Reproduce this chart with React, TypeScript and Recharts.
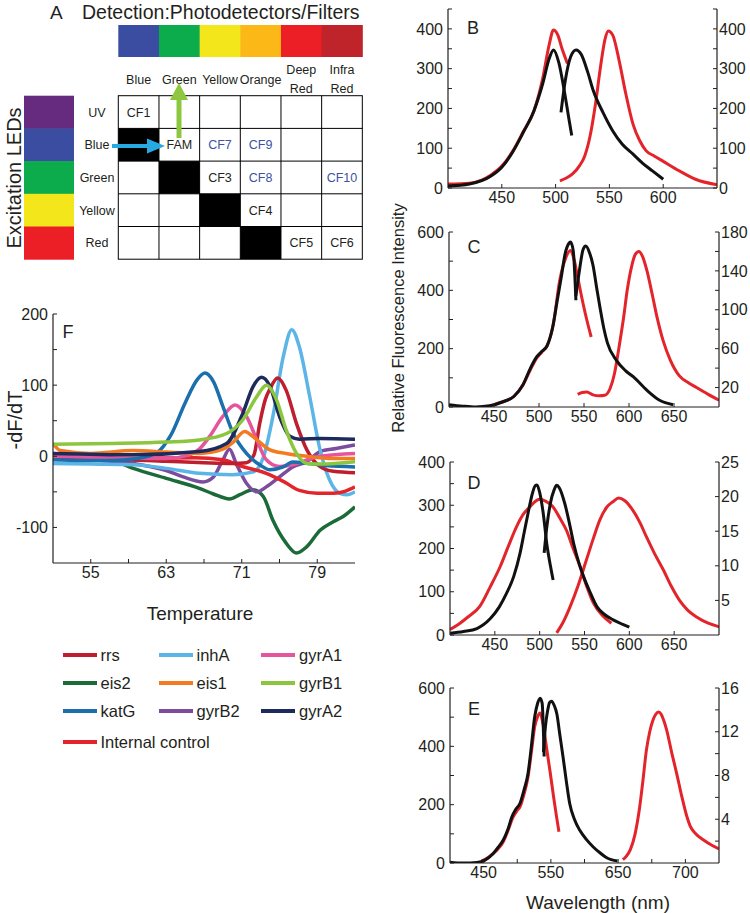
import React from 'react';
import { LineChart, Line, XAxis, YAxis } from 'recharts';

type Pt = [number, number];

// ---- Panel A (detector / LED matrix) ----
const detectNames = ['Blue', 'Green', 'Yellow', 'Orange', 'Deep Red', 'Infra Red'];
const detectColors = ['#3a4da0', '#0cab4b', '#f3e61b', '#fbb817', '#ec1f26', '#bf242b'];
const ledNames = ['UV', 'Blue', 'Green', 'Yellow', 'Red'];
const ledColors = ['#662a7e', '#3a4da0', '#0cab4b', '#f3e61b', '#ec1f26'];
const cellLabels = [
  ['CF1', '', '', '', '', ''],
  ['', 'FAM', 'CF7', 'CF9', '', ''],
  ['', '', 'CF3', 'CF8', '', 'CF10'],
  ['', '', '', 'CF4', '', ''],
  ['', '', '', '', 'CF5', 'CF6'],
];
const blueLabels = ['CF7', 'CF8', 'CF9', 'CF10'];
const blackCells: Pt[] = [[1, 0], [2, 1], [3, 2], [4, 3]];

// ---- Panel B ----
const bExBlack: Pt[] = [[400, 5], [420, 10], [440, 30], [450, 52], [460, 90], [470, 140], [480, 195], [488, 262], [494, 325], [498, 347], [503, 315], [508, 245], [512, 180], [515, 132]];
const bExRed: Pt[] = [[400, 10], [420, 12], [440, 33], [450, 55], [460, 92], [470, 142], [480, 195], [488, 275], [494, 360], [498, 397], [502, 385], [506, 350], [511, 313]];
const bEmBlack: Pt[] = [[505, 190], [509, 270], [514, 330], [519, 347], [524, 335], [530, 290], [535, 245], [544, 190], [553, 144], [562, 110], [572, 85], [581, 62], [590, 43], [600, 22]];
const bEmRed: Pt[] = [[504, 18], [510, 25], [516, 36], [522, 55], [527, 80], [532, 130], [537, 210], [542, 310], [546, 375], [549, 395], [553, 385], [559, 321], [565, 240], [572, 160], [578, 120], [584, 94], [592, 80], [600, 67], [615, 43], [630, 22], [650, 8]];

// ---- Panel C ----
const cExBlack: Pt[] = [[400, 8], [415, 3], [430, 0], [445, 4], [460, 18], [472, 36], [482, 75], [490, 130], [497, 170], [503, 190], [509, 210], [515, 270], [520, 360], [525, 450], [529, 525], [533, 560], [535, 566], [538, 537], [541, 366]];
const cEmBlack: Pt[] = [[541, 380], [545, 470], [549, 540], [552, 552], [556, 530], [560, 486], [564, 410], [568, 337], [572, 270], [576, 220], [586, 160], [596, 125], [605, 103], [620, 57], [634, 23], [649, 8]];
const cExRed: Pt[] = [[451, 10], [460, 18], [472, 36], [482, 75], [490, 125], [497, 166], [503, 188], [509, 210], [516, 286], [523, 434], [529, 505], [535, 537], [539, 505], [543, 445], [549, 354], [553, 300], [558, 240]];
const cEmRed: Pt[] = [[543, 13], [548, 15], [553, 15.5], [560, 12.5], [567, 11.5], [573, 12], [579, 19], [584, 35], [589, 62], [594, 92], [598, 120], [603, 145], [607, 157], [611, 160], [615, 155], [620, 140], [626, 115], [631, 93], [638, 68], [646, 48], [656, 32], [666, 25], [675, 20], [688, 13], [700, 7]];

// ---- Panel D ----
const dExBlack: Pt[] = [[400, 4], [415, 8], [430, 15], [445, 38], [455, 65], [463, 96], [471, 135], [478, 188], [483, 240], [487, 281], [491, 320], [495, 345], [497, 347], [500, 330], [504, 281], [508, 210], [512, 160], [515, 127]];
const dEmBlack: Pt[] = [[505, 190], [508, 250], [512, 305], [516, 335], [519, 346], [522, 340], [528, 304], [533, 260], [538, 211], [544, 165], [549, 135], [556, 100], [564, 65], [572, 48], [582, 35], [592, 25], [600, 18]];
const dExRed: Pt[] = [[400, 0.8], [410, 1.6], [420, 2.6], [433, 4.1], [445, 7], [456, 9.9], [465, 12.8], [474, 15.6], [482, 17.5], [489, 18.5], [495, 19.3], [500, 19.6], [507, 19.3], [515, 18.5], [522, 17], [530, 15.1], [537, 12.6], [545, 9.9], [552, 7.2], [560, 4.6], [570, 2.8], [580, 1.7]];
const dEmRed: Pt[] = [[519, 0.3], [526, 1.8], [534, 4.1], [543, 7.2], [552, 10.8], [560, 14], [567, 16.6], [575, 18.5], [582, 19.3], [588, 19.8], [595, 19.4], [604, 18], [612, 16.2], [619, 14.2], [628, 11.8], [638, 9.4], [647, 7], [656, 5], [665, 3.6], [675, 2.6], [688, 1.7], [700, 1.2]];

// ---- Panel E ----
const eExBlack: Pt[] = [[400, 3], [420, 0], [440, 2], [452, 10], [464, 32], [472, 55], [479, 78], [486, 115], [492, 158], [498, 185], [504, 204], [510, 250], [516, 307], [521, 400], [526, 502], [530, 545], [534, 565], [537, 548], [540, 365]];
const eEmBlack: Pt[] = [[539, 380], [542, 470], [545, 520], [548, 550], [551, 555], [555, 540], [559, 510], [563, 445], [568, 365], [573, 280], [578, 204], [585, 150], [593, 112], [603, 80], [613, 55], [623, 35], [633, 18], [649, 7]];
const eExRed: Pt[] = [[447, 7], [456, 18], [464, 32], [472, 50], [479, 72], [486, 110], [494, 158], [500, 180], [504, 192], [510, 235], [516, 295], [521, 380], [526, 468], [530, 500], [534, 514], [538, 480], [544, 388], [549, 310], [554, 227], [558, 165], [562, 107]];
const eEmRed: Pt[] = [[657, 0.3], [662, 0.6], [668, 1.2], [675, 2.6], [682, 5.1], [687, 7.6], [692, 10.3], [697, 12], [702, 13.1], [706, 13.6], [710, 13.8], [714, 13.6], [718, 13], [722, 12.2], [730, 10], [737, 8.2], [745, 6], [752, 4.3], [757, 3.4], [765, 2.7], [777, 2.1], [790, 1.6], [800, 1.3]];

// ---- Panel F (melt curves) ----
const fRrs: Pt[] = [[51, -3], [57, -4], [63, -7], [67, -9], [70, -10], [71.5, -9], [72.3, 2], [72.9, 46], [73.5, 80], [74, 95], [74.8, 110], [75.7, 93], [76.8, 46], [77.9, 9], [79.3, -14.5], [80.7, -21], [83, -23]];
const fEis2: Pt[] = [[51, -2], [54, -3], [57, -5], [59.5, -17], [63, -31], [66.5, -45], [68, -53], [69.7, -60], [70.8, -54], [72.2, -47], [73.3, -57], [74.3, -90], [75.7, -122], [76.8, -136], [77.9, -127], [79.3, -104], [80.7, -92], [81.7, -85], [83, -71]];
const fKatG: Pt[] = [[51, -5], [54, -6], [57, -6], [60, -3], [62, 5], [63.5, 30], [65, 75], [66.3, 108], [67.1, 117], [68, 105], [69, 70], [70.1, 32], [71.5, 4], [72.9, -12], [74, -19], [75.4, -15], [76.4, -8], [78, -10], [80, -13], [83, -15]];
const fInhA: Pt[] = [[51, -10], [55, -11], [59.5, -12], [63, -17], [66.5, -24], [70, -26], [72.2, -22], [73.3, -1], [74.3, 56], [75.4, 140], [76.3, 178], [77.1, 154], [78.2, 84], [79.3, 9], [80.3, -33], [81.4, -52], [82.2, -54], [83, -50]];
const fEis1: Pt[] = [[51, 18], [51.8, 8], [55, 4], [59.5, 8], [63, 6], [66.5, 4], [69, 10], [70.1, 20], [71.3, 35], [72.6, 23], [74, 9], [75.7, 4], [77.9, 0], [80.7, -3], [83, -3]];
const fGyrB2: Pt[] = [[51, -3], [55, -5], [59.5, -10], [63, -20], [64.8, -29], [66.9, -36], [68, -29], [69, -5], [69.7, 10], [70.4, -10], [71.5, -38], [72.6, -50], [73.6, -43], [75, -29], [76.4, -15], [77.9, -7.5], [79.3, 6.6], [81, 11], [83, 16]];
const fGyrA1: Pt[] = [[51, 0], [57, -2], [63, -3], [65.5, 2], [66.5, 10], [67.6, 28], [69, 56], [70.3, 72], [71.5, 56], [72.6, 23], [73.6, -5], [75, -14.5], [76.4, -12], [77.9, -5], [79.3, 0], [83, 4]];
const fGyrB1: Pt[] = [[51, 17], [57, 18], [63, 20], [66.5, 23], [69.4, 32], [71.1, 51], [72.6, 84], [73.6, 100], [74.7, 79], [75.7, 37], [76.8, 4], [77.9, -10], [79.3, -11], [83, -7.5]];
const fGyrA2: Pt[] = [[51, 4], [59.5, 2], [66.5, 6.6], [69.4, 18], [71.1, 60], [72.2, 98], [73.1, 111], [74, 98], [75, 56], [76.1, 28], [77.1, 24], [79.3, 25], [83, 24]];
const fControl: Pt[] = [[51, -4], [60, -3], [66, -2], [69, -5], [71, -14], [73.6, -24], [75.5, -36], [77.1, -48], [79, -52], [80.7, -52], [82, -49], [83, -43]];

const fNames = ['rrs', 'inhA', 'gyrA1', 'eis2', 'eis1', 'gyrB1', 'katG', 'gyrB2', 'gyrA2', 'Internal control'];
const fColors = ['#be1e2d', '#5bb5e6', '#e5559d', '#1b6b39', '#f37a21', '#8cc63f', '#1a6fad', '#7c4d9f', '#1c2a5c', '#e3242b'];
const fData = [fRrs, fInhA, fGyrA1, fEis2, fEis1, fGyrB1, fKatG, fGyrB2, fGyrA2, fControl];
const fDrawOrder = [3, 7, 1, 9, 0, 2, 6, 4, 8, 5];

// ticks
const bXTicks = [450, 500, 550, 600];
const cdXTicks = [450, 500, 550, 600, 650];
const eXTicks = [450, 500, 550, 600, 650, 700, 750];
const eXText = ['450', '', '550', '', '650', '', '700'];
const ticks450 = [0, 50, 100, 150, 200, 250, 300, 350, 400, 450];
const ticks600 = [0, 100, 200, 300, 400, 500, 600];
const cRightTicks = [20, 40, 60, 80, 100, 120, 140, 160, 180];
const dRightTicks = [5, 10, 15, 20, 25];
const eRightTicks = [2, 4, 6, 8, 10, 12, 14, 16];
const fXTicks = [55, 59, 63, 67, 71, 75, 79];
const fYTicks = [-100, -50, 0, 50, 100, 150, 200];

const INK = '#231f20';
const RED = '#e3242b';
const BLACK = '#111111';
const FONT = "'Liberation Sans', Arial, Helvetica, sans-serif";

const toPts = (a: Pt[]) => a.map(([x, y]) => ({ x, y }));
const showEvery = (step: number) => (v: number) => (v % step === 0 ? String(v) : '');
const fromList = (ticks: number[], text: string[]) => (v: number) => {
  const i = ticks.indexOf(v);
  return i >= 0 ? text[i] : '';
};

interface Axis {
  domain: [number, number];
  ticks: number[];
  fmt: (v: number) => string;
}
interface Series {
  data: Pt[];
  color: string;
  axis: 'l' | 'r';
}

const Panel: React.FC<{
  left: number; top: number; width: number; height: number;
  plot: { l: number; r: number; t: number; b: number };
  x: Axis; yl: Axis; yr?: Axis; series: Series[]; sw: number;
}> = ({ left, top, width, height, plot, x, yl, yr, series, sw }) => {
  const tickStyle = { fill: INK, fontSize: 16, fontFamily: FONT };
  const axisLine = { stroke: INK, strokeWidth: 1.2 };
  return (
    <div style={{ position: 'absolute', left, top }}>
      <LineChart
        width={width}
        height={height}
        margin={{ top: plot.t - top, bottom: 0, left: 0, right: yr ? 0 : left + width - plot.r }}
      >
        <XAxis
          type="number" dataKey="x" domain={x.domain} ticks={x.ticks} interval={0}
          allowDataOverflow height={top + height - plot.b}
          tickFormatter={x.fmt} tick={tickStyle} axisLine={axisLine}
          tickLine={{ stroke: INK }} tickSize={-4} tickMargin={8}
        />
        <YAxis
          yAxisId="l" orientation="left" type="number" domain={yl.domain} ticks={yl.ticks}
          interval={0} allowDataOverflow width={plot.l - left}
          tickFormatter={yl.fmt} tick={tickStyle} axisLine={axisLine}
          tickLine={{ stroke: INK }} tickSize={-4} tickMargin={9}
        />
        {yr && (
          <YAxis
            yAxisId="r" orientation="right" type="number" domain={yr.domain} ticks={yr.ticks}
            interval={0} allowDataOverflow width={left + width - plot.r}
            tickFormatter={yr.fmt} tick={tickStyle} axisLine={axisLine}
            tickLine={{ stroke: INK }} tickSize={-4} tickMargin={6}
          />
        )}
        {series.map((s, i) => (
          <Line
            key={i} yAxisId={s.axis} data={toPts(s.data)} dataKey="y" type="monotone"
            stroke={s.color} strokeWidth={sw} dot={false} isAnimationActive={false}
          />
        ))}
      </LineChart>
    </div>
  );
};

const PanelA: React.FC = () => {
  const gx = 118.3, cw = 40.67, gy = 95.7, rh = 32.7;
  return (
    <g fontFamily={FONT} fill={INK}>
      <text x={50} y={18.5} fontSize={19}>A</text>
      <text x={82} y={18.5} fontSize={19.5}>Detection:Photodetectors/Filters</text>
      {detectColors.map((c, i) => (
        <rect key={i} x={gx + i * cw} y={25} width={cw + 0.5} height={32} fill={c} />
      ))}
      {detectNames.map((n, i) => {
        const words = n.split(' ');
        const cx = gx + (i + 0.5) * cw;
        return words.length === 1 ? (
          <text key={i} x={cx} y={84} fontSize={12.5} textAnchor="middle">{n}</text>
        ) : (
          <text key={i} x={cx} y={74} fontSize={12.5} textAnchor="middle">
            <tspan x={cx}>{words[0]}</tspan>
            <tspan x={cx} dy={19}>{words[1]}</tspan>
          </text>
        );
      })}
      {ledColors.map((c, i) => (
        <rect key={i} x={24} y={gy + i * rh} width={50} height={rh + 0.5} fill={c} />
      ))}
      <text
        x={0} y={0} fontSize={20} textAnchor="middle" dominantBaseline="central"
        transform={`translate(14,178) rotate(-90)`}
      >
        Excitation LEDs
      </text>
      {ledNames.map((n, i) => (
        <text key={i} x={97} y={gy + (i + 0.5) * rh + 4.5} fontSize={12.5} textAnchor="middle">{n}</text>
      ))}
      {blackCells.map(([r, c], i) => (
        <rect key={i} x={gx + c * cw} y={gy + r * rh} width={cw} height={rh} fill="#000" />
      ))}
      <rect x={gx} y={gy} width={cw * 6} height={rh * 5} fill="none" stroke="#000" strokeWidth={1} />
      {[1, 2, 3, 4, 5].map((i) => (
        <line key={'c' + i} x1={gx + i * cw} x2={gx + i * cw} y1={gy} y2={gy + 5 * rh} stroke="#000" strokeWidth={1} />
      ))}
      {[1, 2, 3, 4].map((i) => (
        <line key={'r' + i} x1={gx} x2={gx + 6 * cw} y1={gy + i * rh} y2={gy + i * rh} stroke="#000" strokeWidth={1} />
      ))}
      {cellLabels.map((row, r) =>
        row.map((t, c) =>
          t ? (
            <text
              key={`${r}-${c}`} x={gx + (c + 0.5) * cw} y={gy + (r + 0.5) * rh + 4.5}
              fontSize={12.5} textAnchor="middle" fill={blueLabels.includes(t) ? '#3953a4' : INK}
            >
              {t}
            </text>
          ) : null
        )
      )}
      {/* excitation arrow */}
      <line x1={112} y1={146} x2={150} y2={146} stroke="#27aae1" strokeWidth={4} />
      <polygon points="147,138.5 165,146 147,153.5" fill="#27aae1" />
      {/* emission arrow */}
      <line x1={179} y1={138} x2={179} y2={98} stroke="#8dc63f" strokeWidth={5} />
      <polygon points="170,100 179,83 188,100" fill="#8dc63f" />
    </g>
  );
};

const legendCols = [63, 159, 261];
const legendRows = [655, 683, 711, 742];

export default function App() {
  const specSeries = (exB: Pt[], emB: Pt[], exR: Pt[], emR: Pt[], emAxis: 'l' | 'r', exAxis: 'l' | 'r'): Series[] => [
    { data: exR, color: RED, axis: exAxis },
    { data: emR, color: RED, axis: emAxis },
    { data: exB, color: BLACK, axis: 'l' },
    { data: emB, color: BLACK, axis: 'l' },
  ];

  return (
    <div
      style={{
        position: 'absolute', left: 0, top: 0, width: 750, height: 913,
        background: '#fff', fontFamily: FONT, overflow: 'hidden',
      }}
    >
      <Panel
        left={380} top={0} width={370} height={220}
        plot={{ l: 448, r: 717, t: 9, b: 188 }}
        x={{ domain: [400, 650], ticks: bXTicks, fmt: showEvery(50) }}
        yl={{ domain: [0, 450], ticks: ticks450, fmt: showEvery(100) }}
        yr={{ domain: [0, 450], ticks: ticks450, fmt: showEvery(100) }}
        series={specSeries(bExBlack, bEmBlack, bExRed, bEmRed, 'l', 'l')}
        sw={3}
      />
      <Panel
        left={380} top={215} width={370} height={225}
        plot={{ l: 449, r: 719, t: 232, b: 407 }}
        x={{ domain: [400, 700], ticks: cdXTicks, fmt: showEvery(50) }}
        yl={{ domain: [0, 600], ticks: ticks600, fmt: showEvery(200) }}
        yr={{ domain: [0, 180], ticks: cRightTicks, fmt: (v) => ((v - 20) % 40 === 0 ? String(v) : '') }}
        series={specSeries(cExBlack, cEmBlack, cExRed, cEmRed, 'r', 'l')}
        sw={3}
      />
      <Panel
        left={380} top={440} width={370} height={225}
        plot={{ l: 450, r: 719, t: 462, b: 635 }}
        x={{ domain: [400, 700], ticks: cdXTicks, fmt: showEvery(50) }}
        yl={{ domain: [0, 400], ticks: ticks450.slice(0, 9), fmt: showEvery(100) }}
        yr={{ domain: [0, 25], ticks: dRightTicks, fmt: showEvery(5) }}
        series={specSeries(dExBlack, dEmBlack, dExRed, dEmRed, 'r', 'r')}
        sw={3}
      />
      <Panel
        left={380} top={665} width={370} height={230}
        plot={{ l: 450, r: 719, t: 688, b: 863 }}
        x={{ domain: [400, 800], ticks: eXTicks, fmt: fromList(eXTicks, eXText) }}
        yl={{ domain: [0, 600], ticks: ticks600, fmt: showEvery(200) }}
        yr={{ domain: [0, 16], ticks: eRightTicks, fmt: showEvery(4) }}
        series={specSeries(eExBlack, eEmBlack, eExRed, eEmRed, 'r', 'l')}
        sw={3}
      />
      <Panel
        left={0} top={300} width={380} height={300}
        plot={{ l: 53, r: 355, t: 314, b: 563 }}
        x={{ domain: [51, 83], ticks: fXTicks, fmt: (v) => ((v - 55) % 8 === 0 ? String(v) : '') }}
        yl={{ domain: [-150, 200], ticks: fYTicks, fmt: showEvery(100) }}
        series={fDrawOrder.map((i) => ({ data: fData[i], color: fColors[i], axis: 'l' as const }))}
        sw={3.5}
      />

      <svg width={750} height={913} style={{ position: 'absolute', left: 0, top: 0, pointerEvents: 'none' }}>
        <PanelA />
        <g fontFamily={FONT} fill={INK}>
          <text x={473} y={34} fontSize={18} textAnchor="middle">B</text>
          <text x={474} y={253} fontSize={18} textAnchor="middle">C</text>
          <text x={474} y={489} fontSize={18} textAnchor="middle">D</text>
          <text x={474} y={715} fontSize={18} textAnchor="middle">E</text>
          <text x={68} y={338} fontSize={18} textAnchor="middle">F</text>
          <text
            x={0} y={0} fontSize={16.5} textAnchor="middle" dominantBaseline="central"
            transform="translate(398,318) rotate(-90)"
          >
            Relative Fluorescence Intensity
          </text>
          <text x={598} y={902} fontSize={19} textAnchor="middle" dominantBaseline="central">Wavelength (nm)</text>
          <text x={200} y={613} fontSize={19} textAnchor="middle" dominantBaseline="central">Temperature</text>
          <text
            x={0} y={0} fontSize={20} textAnchor="middle" dominantBaseline="central"
            transform="translate(15,420) rotate(-90)"
          >
            -dF/dT
          </text>
          {fNames.map((n, i) => {
            const col = i % 3;
            const row = Math.floor(i / 3);
            const x0 = legendCols[col];
            const y0 = legendRows[row];
            return (
              <g key={n}>
                <line x1={x0} x2={x0 + 34} y1={y0} y2={y0} stroke={fColors[i]} strokeWidth={4} />
                <text x={x0 + (col === 2 ? 38 : 37.5)} y={y0} fontSize={16.5} dominantBaseline="central">{n}</text>
              </g>
            );
          })}
        </g>
      </svg>
    </div>
  );
}
